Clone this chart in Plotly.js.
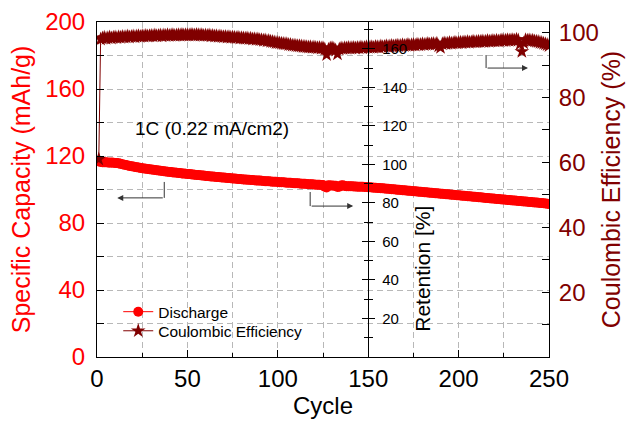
<!DOCTYPE html>
<html>
<head>
<meta charset="utf-8">
<script src="https://cdn.plot.ly/plotly-3.0.1.min.js"></script>
<style>html,body{margin:0;padding:0;background:#fff;}#chart{width:628px;height:421px;}</style>
</head>
<body>
<div id="chart"></div>
<script>
// Discharge specific capacity (mAh/g), cycles 1..250
const discharge = [
116.8,116.4,116.3,116.2,116.3,116.1,116.0,116.1,115.9,115.8,
115.8,115.6,115.3,115.1,114.8,114.6,114.3,114.1,113.9,113.7,
113.5,113.3,113.1,112.9,112.7,112.6,112.4,112.2,112.1,111.9,
111.8,111.6,111.5,111.3,111.2,111.0,110.9,110.8,110.6,110.5,
110.4,110.2,110.1,110.0,109.9,109.8,109.6,109.5,109.4,109.3,
109.2,109.1,108.9,108.8,108.7,108.6,108.5,108.4,108.3,108.1,
108.0,107.9,107.8,107.7,107.6,107.5,107.4,107.3,107.2,107.1,
107.0,106.9,106.8,106.7,106.6,106.5,106.4,106.3,106.2,106.1,
106.0,105.9,105.8,105.8,105.7,105.6,105.5,105.4,105.3,105.3,
105.2,105.1,105.0,104.9,104.9,104.8,104.7,104.6,104.6,104.5,
104.4,104.3,104.3,104.2,104.1,104.0,104.0,103.9,103.8,103.7,
103.7,103.6,103.5,103.4,103.4,103.3,103.2,103.1,103.1,103.0,
102.9,102.9,102.8,102.7,102.7,101.6,101.2,102.5,102.4,102.4,
102.3,102.3,101.5,101.6,102.4,102.5,102.1,102.0,101.9,101.9,
101.9,101.8,101.8,101.7,101.7,101.6,101.6,101.5,101.5,101.4,
101.3,101.2,101.1,101.0,100.9,100.9,100.8,100.7,100.6,100.5,
100.4,100.3,100.2,100.1,100.0,99.9,99.8,99.7,99.6,99.5,
99.4,99.3,99.2,99.1,99.0,98.9,98.8,98.7,98.6,98.5,
98.4,98.3,98.2,98.1,98.0,97.9,97.8,97.7,97.6,97.5,
97.4,97.3,97.2,97.1,97.0,96.9,96.8,96.7,96.6,96.5,
96.4,96.3,96.2,96.1,96.0,95.9,95.8,95.7,95.6,95.5,
95.4,95.3,95.2,95.1,95.0,94.9,94.8,94.7,94.6,94.5,
94.4,94.3,94.2,94.1,94.0,93.9,93.8,93.7,93.6,93.5,
93.4,93.3,93.2,93.1,93.0,92.9,92.8,92.7,92.6,92.5,
92.4,92.3,92.2,92.1,92.0,91.9,91.8,91.7,91.5,91.3
];
// Coulombic efficiency (%), cycles 1..250
const coulombic = [
61.0,98.0,98.3,98.5,98.2,98.4,98.6,98.3,98.5,98.6,
98.4,98.7,98.5,98.8,98.6,98.7,98.9,98.6,98.8,98.9,
98.7,98.9,99.0,98.8,99.0,98.9,99.1,98.9,99.0,99.1,
99.0,99.2,99.0,99.1,99.2,99.0,99.2,99.1,99.3,99.1,
99.2,99.3,99.1,99.2,99.3,99.2,99.4,99.2,99.3,99.3,
99.2,99.4,99.3,99.2,99.4,99.3,99.2,99.3,99.1,99.2,
99.1,99.2,99.0,99.1,98.9,99.0,98.8,98.9,98.8,98.7,
98.8,98.6,98.7,98.5,98.6,98.5,98.4,98.5,98.3,98.4,
98.3,98.2,98.3,98.1,98.2,98.0,98.1,97.9,98.0,97.8,
97.8,97.6,97.7,97.4,97.5,97.3,97.2,97.1,96.9,96.9,
96.8,96.7,96.6,96.5,96.5,96.3,96.3,96.1,96.1,96.0,
95.9,95.9,95.8,95.7,95.7,95.6,95.5,95.6,95.4,95.5,
95.4,95.3,95.4,95.2,95.3,94.9,93.2,94.8,95.2,95.3,
95.1,94.6,93.4,94.9,95.2,95.1,95.3,95.2,95.4,95.2,
95.3,95.4,95.2,95.4,95.3,95.5,95.3,95.4,95.6,95.4,
95.5,95.6,95.4,95.7,95.6,95.5,95.8,95.6,95.7,95.9,
95.7,95.8,96.0,95.8,95.9,96.1,95.9,96.0,96.2,96.0,
96.1,96.3,96.0,96.2,96.3,96.1,96.4,96.2,96.3,96.5,
96.3,96.4,96.6,96.4,96.5,96.6,96.4,96.7,95.9,95.4,
96.5,96.8,96.6,96.7,96.9,96.7,96.8,97.0,96.8,96.9,
97.0,96.9,97.1,97.0,97.2,97.0,97.1,97.3,97.1,97.2,
97.3,97.2,97.4,97.2,97.3,97.5,97.3,97.4,97.5,97.4,
97.6,97.4,97.5,97.7,97.5,97.6,97.8,97.6,97.7,97.8,
97.6,97.9,97.7,96.5,94.2,96.8,97.8,97.6,97.7,97.5,
97.6,97.4,97.3,97.2,97.0,96.9,96.7,96.5,96.3,96.0
];
const cycles = discharge.map((_, i) => i + 1);
const retentionRef = 115; // capacity that corresponds to 100 % retention
const retention = discharge.map(v => v / retentionRef * 100);

const xTicks = [0, 50, 100, 150, 200, 250];
const capTicks = [0, 40, 80, 120, 160, 200];
const ceTicks = [20, 40, 60, 80, 100];
const retTicks = [20, 40, 60, 80, 100, 120, 140, 160];

const FONT = 'Arial, "Liberation Sans", sans-serif';
const RED = '#ff0000';
const MAROON = '#800000';
const GRID = '#b8b8b8';

const traces = [
  {x: cycles, y: coulombic, name: 'Coulombic Efficiency', type: 'scatter', mode: 'lines+markers',
   yaxis: 'y2', legend: 'legend2', line: {color: MAROON, width: 1}, marker: {symbol: 'star', size: 11, color: MAROON}},
  {x: cycles, y: discharge, name: 'Discharge', type: 'scatter', mode: 'lines+markers',
   yaxis: 'y', legend: 'legend', line: {color: RED, width: 1}, marker: {symbol: 'circle', size: 10, color: RED}},
  {x: cycles, y: retention, type: 'scatter', mode: 'lines', yaxis: 'y3', showlegend: false,
   hoverinfo: 'skip', opacity: 0, line: {width: 0}},
  {x: cycles, y: retention, type: 'scatter', mode: 'lines', yaxis: 'y4', showlegend: false,
   hoverinfo: 'skip', opacity: 0, line: {width: 0}}
];

const legendFont = {family: FONT, size: 15.5, color: '#000'};
const arrowColor = '#333333';
const layout = {
  width: 628, height: 421,
  margin: {l: 97, r: 79, t: 22, b: 64},
  paper_bgcolor: '#fff', plot_bgcolor: '#fff',
  font: {family: FONT, color: '#000'},
  showlegend: true,
  legend: {x: 0.047, y: 0.134, xanchor: 'left', yanchor: 'middle', bgcolor: 'rgba(0,0,0,0)',
           font: legendFont, itemwidth: 30},
  legend2: {x: 0.047, y: 0.077, xanchor: 'left', yanchor: 'middle', bgcolor: 'rgba(0,0,0,0)',
           font: legendFont, itemwidth: 30},
  xaxis: {
    range: [0, 250], tickmode: 'array', tickvals: xTicks, ticks: 'inside', ticklen: 7,
    tickcolor: '#000', showline: true, linecolor: '#000', linewidth: 1, mirror: true,
    showgrid: true, gridcolor: GRID, griddash: '6px,4px', zeroline: false,
    tickfont: {family: FONT, size: 24, color: '#000'},
    title: {text: 'Cycle', font: {family: FONT, size: 24, color: '#000'}, standoff: 5},
    minor: {dtick: 25, tick0: 0, ticks: 'inside', ticklen: 4, tickcolor: '#000',
            showgrid: true, gridcolor: GRID, griddash: '6px,4px'}
  },
  yaxis: {
    range: [0, 200], tickmode: 'array', tickvals: capTicks, ticks: 'inside', ticklen: 7,
    tickcolor: '#000', showline: true, linecolor: '#000', linewidth: 1,
    showgrid: true, gridcolor: GRID, griddash: '6px,4px', zeroline: false,
    tickfont: {family: FONT, size: 24, color: RED}, ticklabelstandoff: 6,
    title: {text: 'Specific Capacity (mAh/g)', font: {family: FONT, size: 25, color: RED}, standoff: 7},
    minor: {dtick: 20, tick0: 0, ticks: 'inside', ticklen: 7, tickcolor: '#000',
            showgrid: true, gridcolor: GRID, griddash: '6px,4px'}
  },
  yaxis2: {
    overlaying: 'y', side: 'right', anchor: 'x', range: [0, 103.3],
    tickmode: 'array', tickvals: ceTicks, ticks: 'inside', ticklen: 7, tickcolor: '#000',
    showline: true, linecolor: '#000', linewidth: 1, showgrid: false, zeroline: false,
    tickfont: {family: FONT, size: 24, color: MAROON}, ticklabelstandoff: 4,
    title: {text: 'Coulombic Efficiency (%)', font: {family: FONT, size: 25, color: MAROON}, standoff: 4},
    minor: {dtick: 10, tick0: 0, ticks: 'inside', ticklen: 7, tickcolor: '#000'}
  },
  yaxis3: {
    overlaying: 'y', side: 'right', anchor: 'free', position: 0.6, range: [0, 174],
    tickmode: 'array', tickvals: retTicks, ticks: 'outside', ticklen: 6, tickcolor: '#000',
    showline: true, linecolor: '#000', linewidth: 1, showgrid: false, zeroline: false,
    tickfont: {family: FONT, size: 15, color: '#000'}, ticklabelstandoff: 4,
    minor: {dtick: 10, tick0: 0, ticks: 'outside', ticklen: 4, tickcolor: '#000'}
  },
  yaxis4: {
    overlaying: 'y', side: 'left', anchor: 'free', position: 0.6, range: [0, 174],
    tickmode: 'array', tickvals: retTicks, ticks: 'outside', ticklen: 6, tickcolor: '#000',
    showline: false, showgrid: false, zeroline: false, showticklabels: false,
    minor: {dtick: 10, tick0: 0, ticks: 'outside', ticklen: 4, tickcolor: '#000'}
  },
  shapes: [
    {type: 'line', xref: 'x', yref: 'y', x0: 37.2, x1: 37.2, y0: 104.5, y1: 95, line: {color: arrowColor, width: 1}},
    {type: 'line', xref: 'x', yref: 'y', x0: 117.9, x1: 117.9, y0: 98.5, y1: 90.1, line: {color: arrowColor, width: 1}},
    {type: 'line', xref: 'x', yref: 'y', x0: 215.2, x1: 215.2, y0: 180.3, y1: 172.5, line: {color: arrowColor, width: 1}}
  ],
  annotations: [
    {xref: 'x', yref: 'y', x: 11.2, y: 95, axref: 'x', ayref: 'y', ax: 37.2, ay: 95, text: '',
     showarrow: true, arrowhead: 2, arrowsize: 1.2, arrowwidth: 1, arrowcolor: arrowColor, standoff: 0},
    {xref: 'x', yref: 'y', x: 141.7, y: 90.1, axref: 'x', ayref: 'y', ax: 117.9, ay: 90.1, text: '',
     showarrow: true, arrowhead: 2, arrowsize: 1.2, arrowwidth: 1, arrowcolor: arrowColor, standoff: 0},
    {xref: 'x', yref: 'y', x: 238.4, y: 172.5, axref: 'x', ayref: 'y', ax: 215.2, ay: 172.5, text: '',
     showarrow: true, arrowhead: 2, arrowsize: 1.2, arrowwidth: 1, arrowcolor: arrowColor, standoff: 0},
    {xref: 'x', yref: 'y', x: 63.8, y: 136.7, text: '1C (0.22 mA/cm2)', showarrow: false,
     font: {family: FONT, size: 19, color: '#000'}},
    {xref: 'x', yref: 'y', x: 179.6, y: 52.5, text: 'Retention [%]', showarrow: false, textangle: -90,
     font: {family: FONT, size: 21, color: '#000'}}
  ]
};

Plotly.newPlot('chart', traces, layout, {staticPlot: true, displayModeBar: false});
</script>
</body>
</html>
